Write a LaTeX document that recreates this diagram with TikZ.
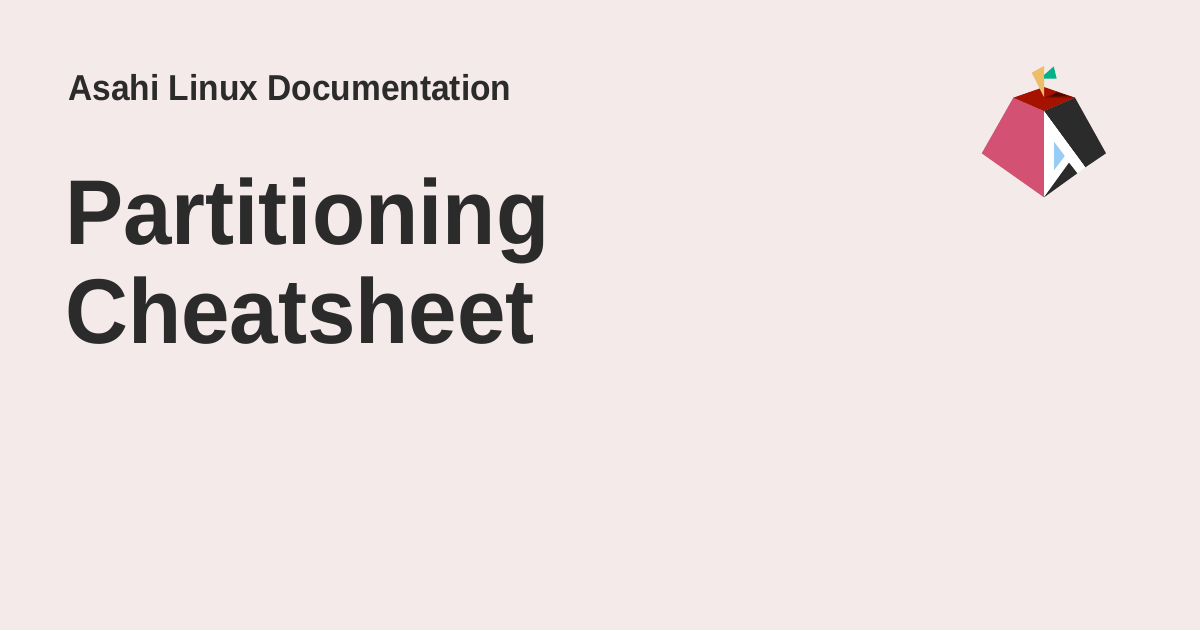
\documentclass[tikz,border=0pt]{standalone}
\usepackage{fontspec}
\setmainfont{Liberation Sans}
\definecolor{bgc}{HTML}{F4EAE9}
\definecolor{ink}{HTML}{2B2B2B}
\definecolor{pinkc}{HTML}{D35274}
\definecolor{redc}{HTML}{A61200}
\definecolor{darkredc}{HTML}{7A0D00}
\definecolor{vdarkc}{HTML}{4A0600}
\definecolor{bluec}{HTML}{99CCF5}
\definecolor{yelc}{HTML}{EEBD68}
\definecolor{greenc}{HTML}{00B386}
\tikzset{
  label small/.style={anchor=base west,inner sep=0pt,text=ink,font=\fontsize{36}{36}\selectfont\bfseries},
  label big/.style={anchor=base west,inner sep=0pt,text=ink,font=\fontsize{92}{92}\selectfont\bfseries},
  facet/.style={draw=none}
}
\begin{document}
\begin{tikzpicture}[x=1pt,y=-1pt]
\useasboundingbox (0,0) rectangle (1200,630);
\fill[bgc] (0,0) rectangle (1200,630);
\node[label small] (site) at (68,100.7) {\scalebox{0.931}[1]{Asahi Linux Documentation}};
\node[label big] (title1) at (65,244) {\scalebox{0.947}[1]{Partitioning}};
\node[label big] (title2) at (65,343) {\scalebox{0.947}[1]{Cheatsheet}};
% logo
\fill[facet,pinkc] (1013.3,97.7) -- (1044,111) -- (1044,197.3) -- (981.7,153.3) -- cycle;
\fill[facet,redc] (1013.3,97.7) -- (1044,87) -- (1075,97.7) -- (1044,111) -- cycle;
\fill[facet,darkredc] (1044,97.7) -- (1057,92.3) -- (1075,97.7) -- cycle;
\fill[facet,vdarkc] (1050,96.7) -- (1057,92.3) -- (1067,96) -- cycle;
\fill[facet,ink] (1044,111) -- (1075,97.7) -- (1106,153.3) -- (1085.3,167.3) -- cycle;
\fill[facet,white] (1044,111) -- (1085.3,167.3) -- (1077.3,173.3) -- (1069,162.7) -- (1044,197.3) -- cycle;
\fill[facet,ink] (1069,162.7) -- (1077.3,173.3) -- (1044,197.3) -- cycle;
\fill[facet,bluec] (1054,141.7) -- (1064.7,156) -- (1054,170.3) -- cycle;
\fill[facet,yelc] (1031.7,72.7) -- (1044,66) -- (1044,97) -- cycle;
\fill[facet,greenc] (1044,75) -- (1053.7,66.5) -- (1056.7,78.7) -- (1044,78.7) -- cycle;
\end{tikzpicture}
\end{document}
